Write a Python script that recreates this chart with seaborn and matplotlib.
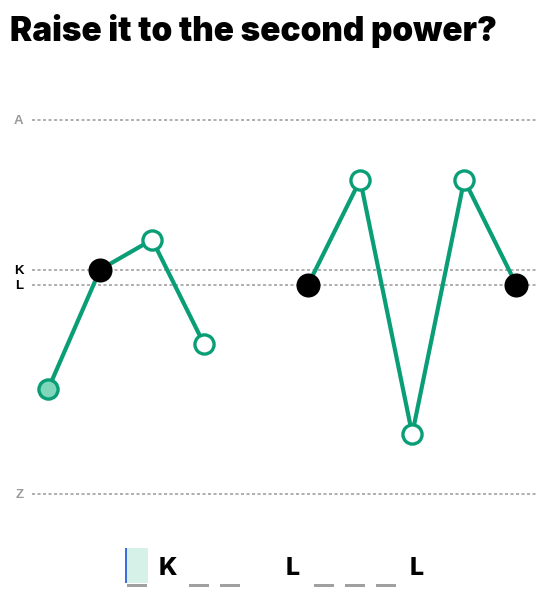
import matplotlib
matplotlib.use("Agg")
import matplotlib.pyplot as plt
import matplotlib.patches as mpatches
import seaborn as sns
import pandas as pd

TITLE = "Raise it to the second power?"

# guessed word: "SKIP LEVEL"
LETTERS = ["S", "K", "I", "P", "L", "E", "V", "E", "L"]
POSITIONS = [0, 1, 2, 3, 5, 6, 7, 8, 9]
WORD_ID = [0, 0, 0, 0, 1, 1, 1, 1, 1]
STATUS = ["current", "given", "guess", "guess", "given", "guess", "guess", "guess", "given"]

# reference lines on the alphabet axis
REF_LETTERS = ["A", "K", "L", "Z"]
REF_COLORS = ["#9a9a9a", "black", "black", "#9a9a9a"]

# answer row at the bottom: None = blank slot, "" = word gap
ANSWER_SLOTS = [None, "K", None, None, "", "L", None, None, None, "L"]

GREEN = "#0a9e76"
MINT = "#7fd6bb"

df = pd.DataFrame({
    "pos": POSITIONS,
    "letter": LETTERS,
    "word": WORD_ID,
    "status": STATUS,
})
df["y"] = df["letter"].map(lambda c: ord(c) - ord("A"))

sns.set_theme(style="white")
plt.rcParams["font.family"] = ["Liberation Sans", "DejaVu Sans"]

fig = plt.figure(figsize=(5.44, 5.98), dpi=100)
ax = fig.add_axes([32 / 544, 1 - 505 / 598, 504 / 544, 395 / 598])

# dotted reference lines
ref_vals = [ord(c) - ord("A") for c in REF_LETTERS]
for v in ref_vals:
    ax.axhline(v, color="#9a9a9a", lw=1.1, ls=(0, (2, 1.6)), zorder=0)

sns.lineplot(data=df, x="pos", y="y", units="word", estimator=None,
             color=GREEN, lw=3, ax=ax, legend=False, zorder=2)

styles = {
    "current": dict(color=MINT, edgecolor=GREEN, linewidth=2.4, s=190),
    "given": dict(color="black", edgecolor="black", linewidth=0, s=300),
    "guess": dict(color="white", edgecolor=GREEN, linewidth=2.4, s=190),
}
for st, kw in styles.items():
    sns.scatterplot(data=df[df["status"] == st], x="pos", y="y", ax=ax,
                    legend=False, zorder=3, **kw)

ax.set_xlim(-0.31, 9.38)
ax.set_ylim(25.74, -0.668)
ax.set_xticks([])
ax.set_yticks(ref_vals)
ax.set_yticklabels(REF_LETTERS, fontsize=9.5, fontweight="bold")
for lab, c in zip(ax.get_yticklabels(), REF_COLORS):
    lab.set_color(c)
ax.tick_params(axis="y", length=0, pad=6)
ax.set_xlabel("")
ax.set_ylabel("")
for sp in ax.spines.values():
    sp.set_visible(False)

fig.text(10 / 544, 1 - 41 / 598, TITLE, fontsize=24, fontweight=900,
         family=["Inter", "Liberation Sans"], color="black", ha="left", va="baseline")

# answer row
x0, step = 137, 31.1
for i, slot in enumerate(ANSWER_SLOTS):
    cx = x0 + i * step
    if slot == "":
        continue
    if slot is None:
        fig.add_artist(mpatches.Rectangle(((cx - 10) / 544, 1 - 587 / 598), 20 / 544, 3 / 598,
                                          transform=fig.transFigure, color="#a0a0a0", lw=0))
        if i == 0:
            fig.add_artist(mpatches.Rectangle(((cx - 12) / 544, 1 - 583 / 598), 23 / 544, 35 / 598,
                                              transform=fig.transFigure, color="#d5f1e8", lw=0))
            fig.add_artist(mpatches.Rectangle(((cx - 12) / 544, 1 - 583 / 598), 2 / 544, 35 / 598,
                                              transform=fig.transFigure, color="#3a6fdc", lw=0))
    else:
        fig.text(cx / 544, 1 - 575 / 598, slot, fontsize=18, fontweight="heavy",
                 family=["Inter", "Liberation Sans"], color="black", ha="center", va="baseline")

fig.savefig("out.png", dpi=100)
